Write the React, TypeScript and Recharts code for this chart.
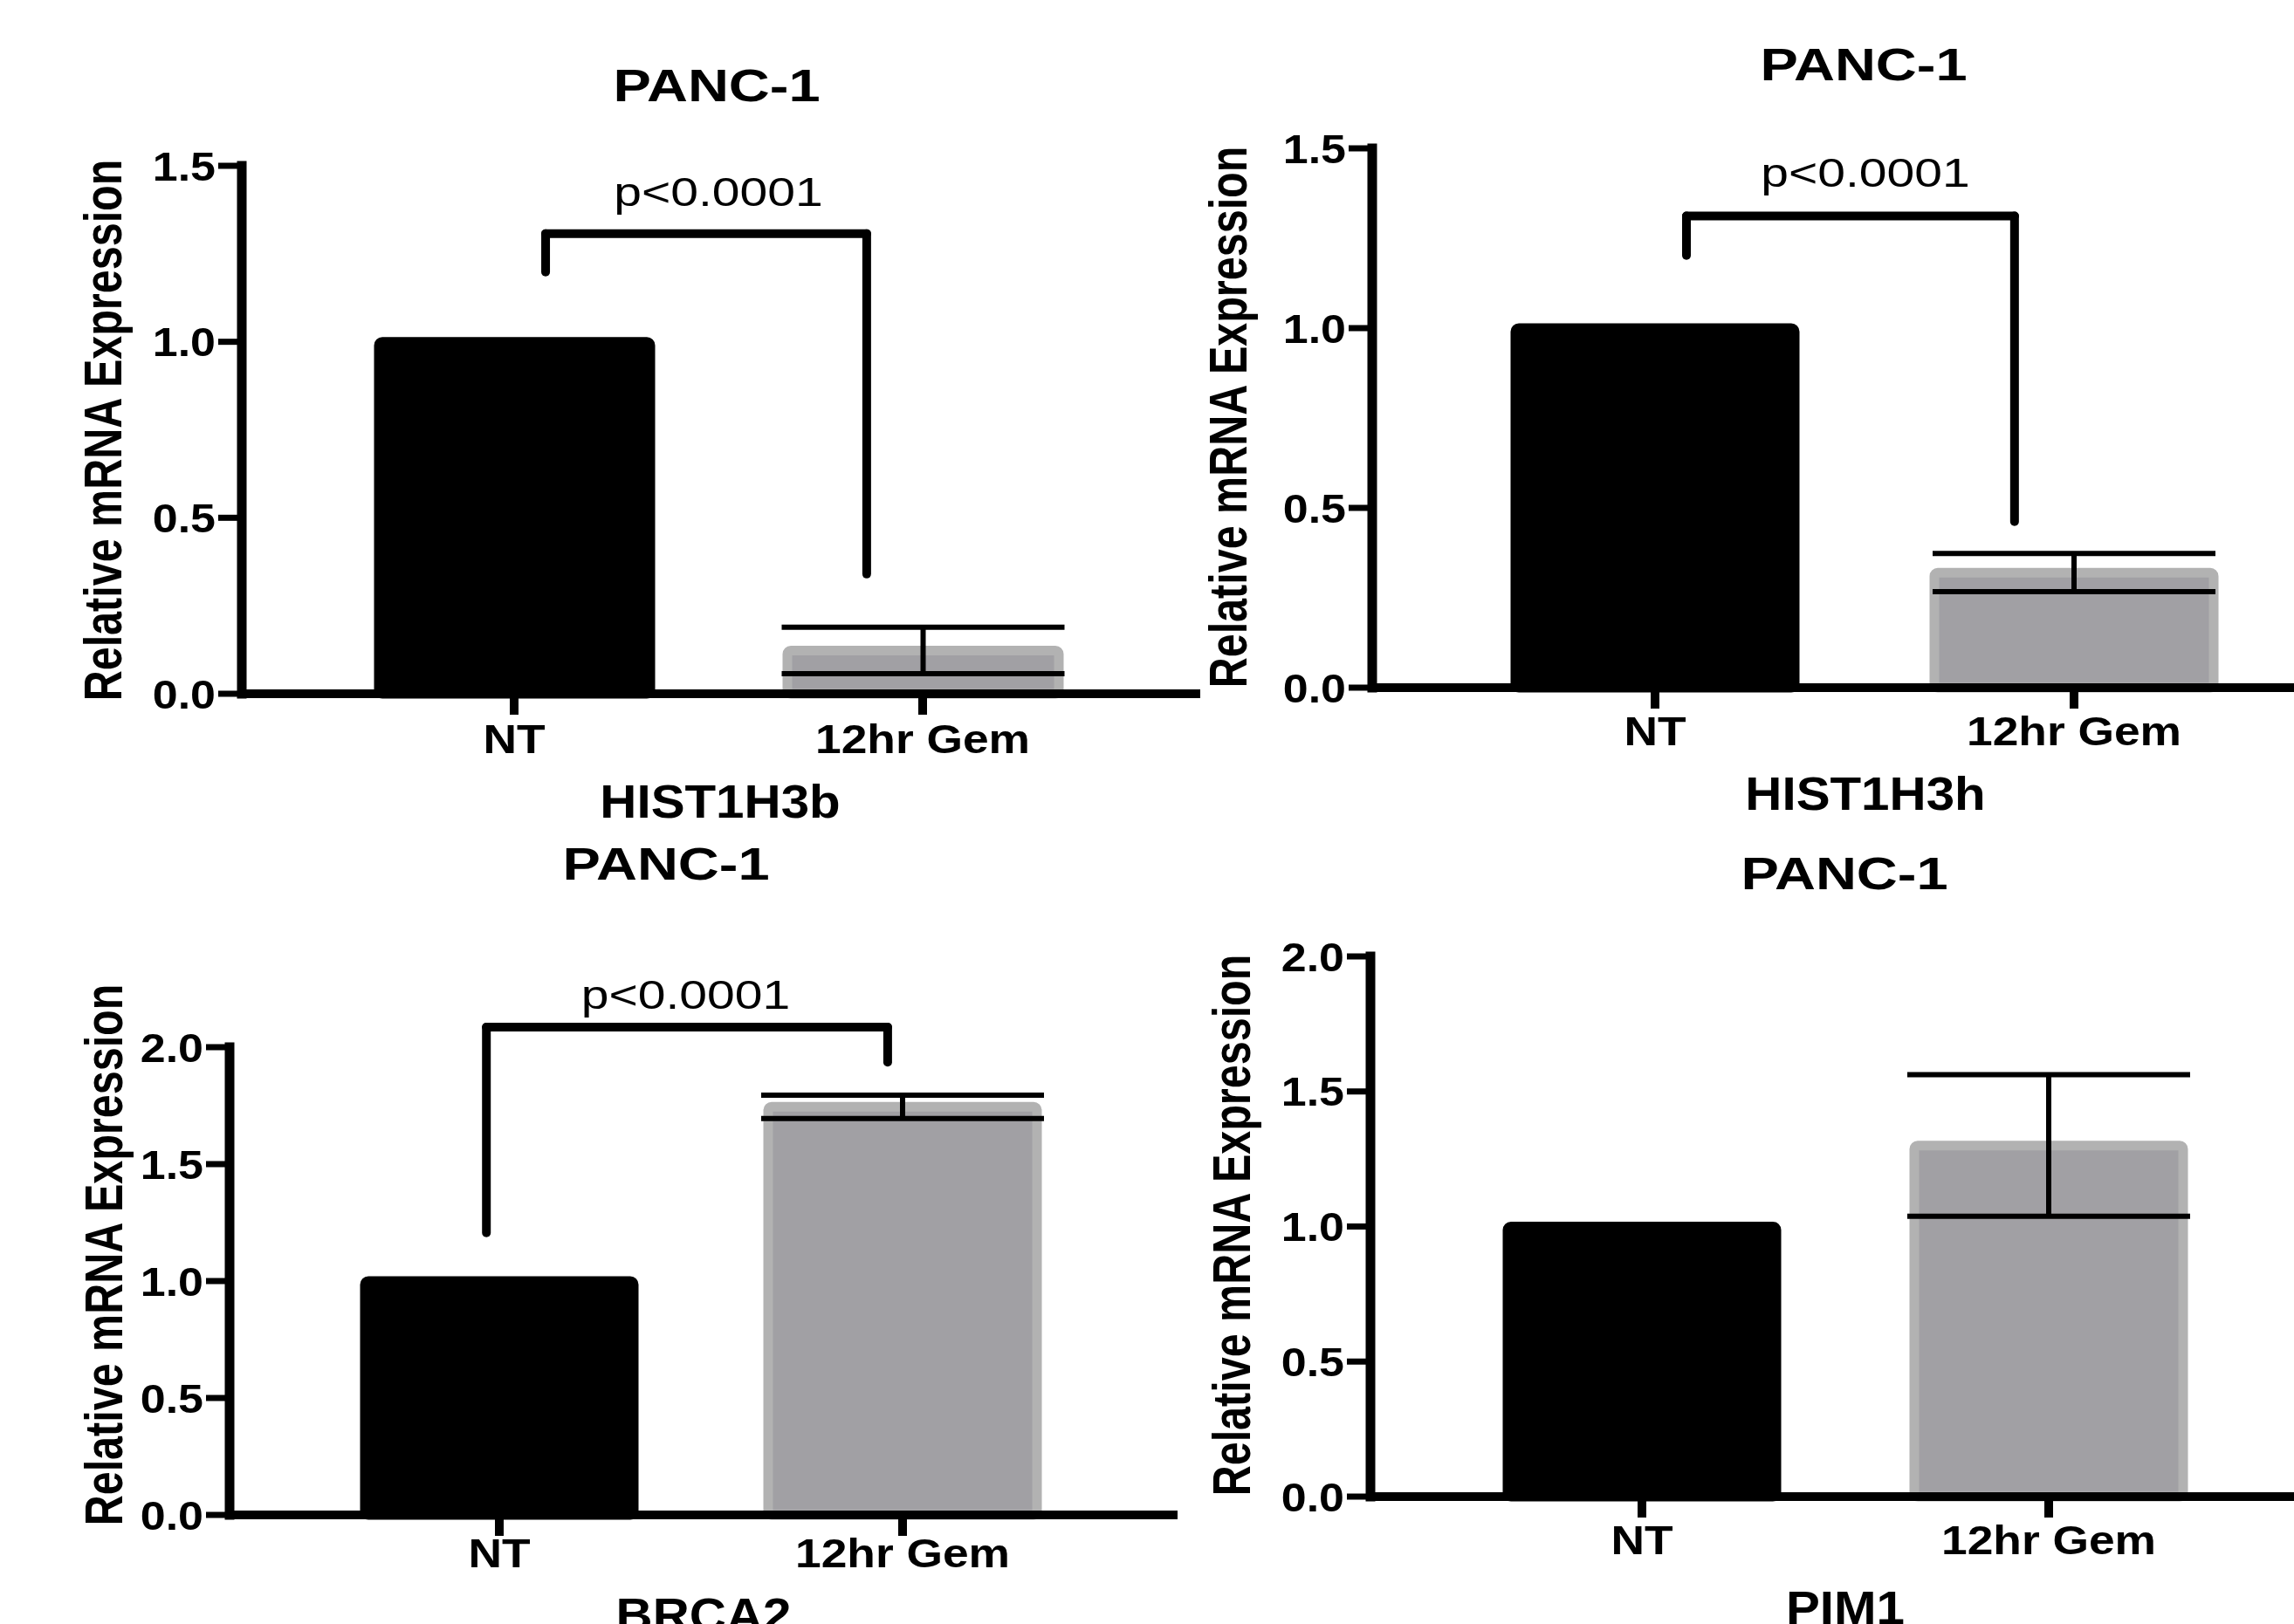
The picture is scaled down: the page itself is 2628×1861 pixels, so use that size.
import React from 'react';
import { BarChart, Bar, XAxis, YAxis, Cell, ErrorBar, ReferenceLine, ReferenceDot } from 'recharts';

// ---------- data ----------
const categories = ['NT', '12hr Gem'];
const hist1h3bMeans = [1.0, 0.123];
const hist1h3bErrors = [0, 0.066];
const hist1h3hMeans = [1.0, 0.32];
const hist1h3hErrors = [0, 0.053];
const brca2Means = [1.0, 1.745];
const brca2Errors = [0, 0.05];
const pim1Means = [1.0, 1.3];
const pim1Errors = [0, 0.262];
const ticksTo15 = [0, 0.5, 1.0, 1.5];
const ticksTo20 = [0, 0.5, 1.0, 1.5, 2.0];
const cellLine = 'PANC-1';
const yAxisTitle = 'Relative mRNA Expression';
const pValueText = 'p<0.0001';
// bracket: [leftX, leftBottomY, topY, rightX, rightBottomY] (x in category-index units: NT = 0, 12hr Gem = 1)
const hist1h3bBracket = [0.077, 1.198, 1.307, 0.863, 0.34];
const hist1h3hBracket = [0.075, 1.202, 1.312, 0.858, 0.462];
const brca2Bracket = [-0.032, 1.206, 2.086, 0.963, 1.936];
// p label anchor: [x (category-index units), baseline value]
const hist1h3bPLabel = [0.5, 1.386];
const hist1h3hPLabel = [0.502, 1.392];
const brca2PLabel = [0.462, 2.165];

// ---------- style / layout ----------
const PAGE_W = 2628;
const PAGE_H = 1861;
const CHART_W = 2700;
const FONT = '"Liberation Sans", Arial, Helvetica, sans-serif';
const FILLS = ['#000000', '#a1a0a4'];
const STROKES = ['#000000', '#b2b2b2'];

// category index -> position on the hidden [0,1] axis spanning both category bands
const idxToPos = (i: number) => 0.25 + i * 0.5;

type Cfg = {
  L: number; T: number; R: number; B: number; padL: number; padR: number; barSize: number;
  title: [number, number]; xTickBase: number; xTitle: [number, number]; yTitle: [number, number];
};

const cfg1: Cfg = { L: 277, T: 190, R: 1370, B: 795, padL: 78, padR: 79, barSize: 311,
  title: [821, 116], xTickBase: 863, xTitle: [825, 937], yTitle: [139, 493] };
const cfg2: Cfg = { L: 1572, T: 170, R: 2700, B: 788, padL: 84, padR: 84, barSize: 320,
  title: [2135, 92], xTickBase: 854, xTitle: [2137, 928], yTitle: [1428, 478] };
const cfg3: Cfg = { L: 263, T: 1200, R: 1344, B: 1736, padL: 78, padR: 79, barSize: 308,
  title: [763, 1008], xTickBase: 1796, xTitle: [806, 1869], yTitle: [140, 1438] };
const cfg4: Cfg = { L: 1570, T: 1096, R: 2700, B: 1715, padL: 78, padR: 120, barSize: 308,
  title: [2113, 1019], xTickBase: 1781, xTitle: [2114, 1861], yTitle: [1432, 1404] };

function SText(props: { x: number; y: number; sx: number; size: number; weight?: string | number;
  anchor?: string; rotate?: boolean; dy?: string; children: React.ReactNode }) {
  const { x, y, sx, size, weight = 'bold', anchor = 'middle', rotate = false, dy, children } = props;
  return (
    <text
      transform={`translate(${x},${y}) scale(${sx},1)${rotate ? ' rotate(-90)' : ''}`}
      x={0}
      y={0}
      dy={dy}
      textAnchor={anchor as any}
      fontSize={size}
      fontWeight={weight as any}
      fontFamily={FONT}
      fill="#000"
    >
      {children}
    </text>
  );
}

type PanelProps = {
  cfg: Cfg; means: number[]; errors: number[]; ticks: number[]; yMax: number; gene: string;
  bracket?: number[]; pLabel?: number[];
};

function Panel({ cfg, means, errors, ticks, yMax, gene, bracket, pLabel }: PanelProps) {
  const data = categories.map((c, i) => ({ category: c, mean: means[i], err: errors[i] }));
  const margin = { left: cfg.L - 200, top: cfg.T, right: CHART_W - cfg.R, bottom: PAGE_H - cfg.B - 100 };

  const xTick = (p: any) => (
    <SText x={p.x} y={cfg.xTickBase} sx={1.16} size={46}>{p.payload.value}</SText>
  );
  const yTick = (p: any) => (
    <SText x={p.x - 1} y={p.y} sx={1.13} size={46} anchor="end" dy="0.36em">
      {Number(p.payload.value).toFixed(1)}
    </SText>
  );
  const xTitle = () => (
    <SText x={cfg.xTitle[0]} y={cfg.xTitle[1]} sx={1.1} size={53}>{gene}</SText>
  );
  const yTitle = () => (
    <SText x={cfg.yTitle[0]} y={cfg.yTitle[1]} sx={1.27} size={48.5} rotate>{yAxisTitle}</SText>
  );
  const pText = (p: any) => {
    const vb = p.viewBox || {};
    const cx = (vb.x ?? 0) + (vb.width ?? 0) / 2;
    const cy = (vb.y ?? 0) + (vb.height ?? 0) / 2;
    return <SText x={cx} y={cy} sx={1.24} size={46} weight="normal">{pValueText}</SText>;
  };

  const lineProps = { stroke: '#000', strokeWidth: 10, strokeLinecap: 'round' as any, ifOverflow: 'visible' as any, xAxisId: 'pos' };
  const bl = bracket ? idxToPos(bracket[0]) : 0;
  const br = bracket ? idxToPos(bracket[3]) : 0;

  return (
    <div style={{ position: 'absolute', left: 0, top: 0 }}>
      <BarChart width={CHART_W} height={PAGE_H} data={data} margin={margin}>
        <Bar dataKey="mean" barSize={cfg.barSize} strokeWidth={11} radius={4} isAnimationActive={false}>
          {data.map((d, i) => (
            <Cell key={d.category} fill={FILLS[i]} stroke={STROKES[i]} />
          ))}
          <ErrorBar dataKey="err" width={162} strokeWidth={6} stroke="#000" direction="y" isAnimationActive={false} />
        </Bar>
        <XAxis
          dataKey="category"
          type="category"
          padding={{ left: cfg.padL, right: cfg.padR }}
          height={100}
          interval={0}
          axisLine={{ stroke: '#000', strokeWidth: 10, strokeLinecap: 'square' } as any}
          tickLine={{ stroke: '#000', strokeWidth: 10 }}
          tickSize={24}
          tick={xTick}
          label={xTitle}
        />
        <XAxis
          xAxisId="pos"
          type="number"
          domain={[0, 1]}
          allowDataOverflow
          padding={{ left: cfg.padL, right: cfg.padR }}
          hide
        />
        <YAxis
          type="number"
          domain={[0, yMax]}
          ticks={ticks}
          width={200}
          interval={0}
          axisLine={{ stroke: '#000', strokeWidth: 11, strokeLinecap: 'square' } as any}
          tickLine={{ stroke: '#000', strokeWidth: 7 }}
          tickSize={27}
          tick={yTick}
          label={yTitle}
        />
        {bracket && (
          <ReferenceLine {...lineProps} segment={[{ x: bl, y: bracket[1] }, { x: bl, y: bracket[2] }]} />
        )}
        {bracket && (
          <ReferenceLine {...lineProps} segment={[{ x: bl, y: bracket[2] }, { x: br, y: bracket[2] }]} />
        )}
        {bracket && (
          <ReferenceLine {...lineProps} segment={[{ x: br, y: bracket[2] }, { x: br, y: bracket[4] }]} />
        )}
        {pLabel && (
          <ReferenceDot xAxisId="pos" x={idxToPos(pLabel[0])} y={pLabel[1]} r={1} fill="none" stroke="none" ifOverflow="visible" label={pText} />
        )}
      </BarChart>
    </div>
  );
}

export default function App() {
  const titles: Cfg[] = [cfg1, cfg2, cfg3, cfg4];
  return (
    <div style={{ position: 'absolute', left: 0, top: 0, width: PAGE_W, height: PAGE_H, overflow: 'hidden', background: '#fff' }}>
      <Panel cfg={cfg1} means={hist1h3bMeans} errors={hist1h3bErrors} ticks={ticksTo15} yMax={1.5} gene="HIST1H3b" bracket={hist1h3bBracket} pLabel={hist1h3bPLabel} />
      <Panel cfg={cfg2} means={hist1h3hMeans} errors={hist1h3hErrors} ticks={ticksTo15} yMax={1.5} gene="HIST1H3h" bracket={hist1h3hBracket} pLabel={hist1h3hPLabel} />
      <Panel cfg={cfg3} means={brca2Means} errors={brca2Errors} ticks={ticksTo20} yMax={2.0} gene="BRCA2" bracket={brca2Bracket} pLabel={brca2PLabel} />
      <Panel cfg={cfg4} means={pim1Means} errors={pim1Errors} ticks={ticksTo20} yMax={2.0} gene="PIM1" />
      <svg width={PAGE_W} height={PAGE_H} style={{ position: 'absolute', left: 0, top: 0, pointerEvents: 'none' }}>
        {titles.map((c, i) => (
          <SText key={i} x={c.title[0]} y={c.title[1]} sx={1.25} size={52}>{cellLine}</SText>
        ))}
      </svg>
    </div>
  );
}
